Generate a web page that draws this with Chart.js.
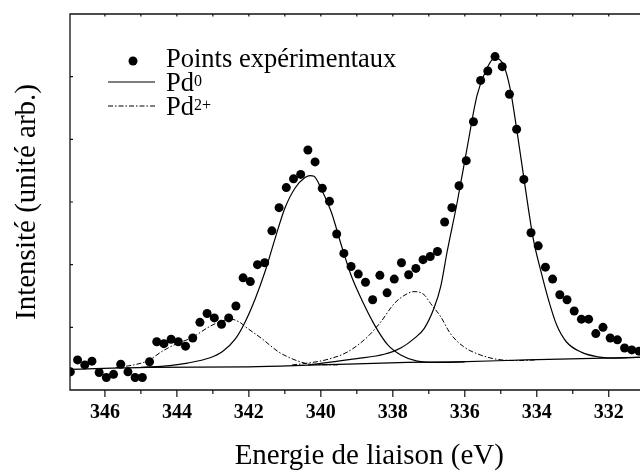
<!DOCTYPE html>
<html>
<head>
<meta charset="utf-8">
<script src="https://cdn.jsdelivr.net/npm/chart.js@4"></script>
<style>
  html, body { margin: 0; padding: 0; background: #fff; overflow: hidden; }
  #wrap { width: 640px; height: 474px; overflow: hidden; }
</style>
</head>
<body>
<div id="wrap"><canvas id="chart" width="673" height="474"></canvas></div>
<script>
// points expérimentaux (eV, intensité en unités arb.)
const energie = [
  346.96, 346.76, 346.56, 346.36, 346.16, 345.96, 345.76, 345.56, 345.36, 345.16,
  344.96, 344.76, 344.56, 344.36, 344.16, 343.96, 343.76, 343.56, 343.36, 343.16,
  342.96, 342.76, 342.56, 342.36, 342.16, 341.96, 341.76, 341.56, 341.36, 341.16,
  340.96, 340.76, 340.56, 340.36, 340.16, 339.96, 339.76, 339.56, 339.36, 339.16,
  338.96, 338.76, 338.56, 338.36, 338.16, 337.96, 337.76, 337.56, 337.36, 337.16,
  336.96, 336.76, 336.56, 336.36, 336.16, 335.96, 335.76, 335.56, 335.36, 335.16,
  334.96, 334.76, 334.56, 334.36, 334.16, 333.96, 333.76, 333.56, 333.36, 333.16,
  332.96, 332.76, 332.56, 332.36, 332.16, 331.96, 331.76, 331.56, 331.36, 331.16
];
const intensite = [
  0.29, 0.48, 0.40, 0.46, 0.28, 0.20, 0.25, 0.41, 0.29, 0.20,
  0.20, 0.45, 0.77, 0.74, 0.81, 0.77, 0.70, 0.83, 1.08, 1.22,
  1.15, 1.05, 1.15, 1.34, 1.79, 1.73, 2.00, 2.03, 2.54, 2.91,
  3.23, 3.37, 3.44, 3.83, 3.64, 3.22, 3.01, 2.49, 2.18, 1.97,
  1.85, 1.72, 1.44, 1.83, 1.55, 1.77, 2.03, 1.84, 1.94, 2.08,
  2.13, 2.21, 2.68, 2.91, 3.26, 3.66, 4.28, 4.94, 5.09, 5.32,
  5.16, 4.72, 4.16, 3.36, 2.51, 2.30, 1.96, 1.77, 1.52, 1.44,
  1.26, 1.13, 1.13, 0.90, 1.00, 0.83, 0.80, 0.67, 0.64, 0.62
];

// fond (ligne de base)
const fondE = [347.0, 344.8, 342.0, 340.1, 337.6, 336.2, 334.3, 331.2, 330.3];
const fondI = [0.33, 0.36, 0.37, 0.40, 0.44, 0.45, 0.48, 0.52, 0.53];

// Pd0 3d3/2
const pd0aE = [345.0, 344.2, 343.7, 343.1, 342.74, 342.37, 342.1, 341.82, 341.55, 341.27, 341.0,
  340.72, 340.44, 340.3, 340.19, 339.98, 339.71, 339.43, 339.16, 338.88, 338.51, 338.14,
  337.78, 337.32, 336.76, 336.0];
const pd0aI = [0.36, 0.39, 0.43, 0.51, 0.61, 0.82, 1.09, 1.46, 1.89, 2.42, 2.90,
  3.22, 3.39, 3.42, 3.41, 3.20, 2.84, 2.31, 1.83, 1.46, 1.04, 0.72,
  0.56, 0.46, 0.44, 0.45];

// Pd0 3d5/2
const pd0bE = [340.35, 339.0, 338.24, 337.78, 337.41, 337.13, 336.86, 336.67, 336.49, 336.21,
  335.94, 335.66, 335.39, 335.16, 334.92, 334.74, 334.56, 334.33, 334.1, 333.87, 333.66,
  333.45, 333.18, 332.75, 332.3, 331.8, 331.2, 330.3];
const pd0bI = [0.40, 0.50, 0.57, 0.67, 0.82, 0.98, 1.30, 1.65, 2.21, 3.00,
  3.85, 4.70, 5.13, 5.30, 5.18, 4.81, 4.17, 3.27, 2.42, 1.86, 1.41,
  1.04, 0.77, 0.60, 0.53, 0.51, 0.52, 0.53];

// Pd2+ 3d3/2
const pd2aE = [345.7, 345.2, 344.8, 344.4, 344.0, 343.6, 343.1, 342.8, 342.5, 342.25, 342.1,
  341.64, 341.18, 340.72, 340.26, 339.5];
const pd2aI = [0.36, 0.40, 0.47, 0.62, 0.74, 0.83, 1.01, 1.09, 1.13, 1.08, 1.01,
  0.82, 0.61, 0.48, 0.41, 0.40];

// Pd2+ 3d5/2
const pd2bE = [340.8, 340.35, 339.8, 339.25, 338.7, 338.33, 337.96, 337.59, 337.41, 337.13,
  336.95, 336.67, 336.4, 336.03, 335.57, 335.11, 334.56, 334.0];
const pd2bI = [0.40, 0.43, 0.49, 0.61, 0.85, 1.09, 1.38, 1.54, 1.57, 1.52,
  1.38, 1.17, 0.90, 0.69, 0.56, 0.49, 0.47, 0.48];

const xTickLabels = [346, 344, 342, 340, 338, 336, 334, 332];
const xMinorTicks = [345, 343, 341, 339, 337, 335, 333, 331];
const yTicks = [1, 2, 3, 4, 5];

const xMin = 330.34, xMax = 346.97;
const serif = '"Liberation Serif", "Times New Roman", serif';

function pts(ex, iy) {
  return ex.map((e, i) => ({ x: e, y: iy[i] }));
}

function courbe(ex, iy, tirets) {
  return {
    data: pts(ex, iy),
    showLine: true,
    borderColor: '#000',
    borderWidth: tirets ? 1 : 1.2,
    borderDash: tirets ? [5, 2, 1.5, 2] : [],
    pointRadius: 0,
    cubicInterpolationMode: 'monotone',
    fill: false
  };
}

// cadre + graduations
const cadre = {
  id: 'cadre',
  afterDatasetsDraw(chart) {
    const { ctx, chartArea: a, scales: { x, y } } = chart;
    ctx.save();
    ctx.strokeStyle = '#111';
    ctx.lineWidth = 1.3;
    ctx.beginPath();
    ctx.moveTo(a.right, a.top);
    ctx.lineTo(a.left, a.top);
    ctx.lineTo(a.left, a.bottom);
    ctx.lineTo(a.right, a.bottom);
    ctx.lineTo(a.right, a.top);
    ctx.stroke();

    ctx.lineWidth = 1.2;
    ctx.beginPath();
    for (const v of xTickLabels) {
      const px = x.getPixelForValue(v);
      ctx.moveTo(px, a.bottom); ctx.lineTo(px, a.bottom + 7);
      ctx.moveTo(px, a.top); ctx.lineTo(px, a.top + 2.5);
    }
    for (const v of xMinorTicks) {
      const px = x.getPixelForValue(v);
      ctx.moveTo(px, a.bottom); ctx.lineTo(px, a.bottom + 4);
      ctx.moveTo(px, a.top); ctx.lineTo(px, a.top + 2.5);
    }
    for (const v of yTicks) {
      const py = y.getPixelForValue(v);
      ctx.moveTo(a.left, py); ctx.lineTo(a.left + 3, py);
    }
    ctx.stroke();
    ctx.restore();
  },
  afterDraw(chart) {
    // légende
    const { ctx, chartArea: a } = chart;
    const lx = a.left + 38, tx = a.left + 96;
    ctx.save();
    ctx.fillStyle = '#000';
    ctx.strokeStyle = '#000';
    ctx.beginPath();
    ctx.arc(a.left + 63, a.top + 47, 4.5, 0, Math.PI * 2);
    ctx.fill();
    ctx.lineWidth = 1.2;
    ctx.beginPath();
    ctx.moveTo(lx, a.top + 68); ctx.lineTo(lx + 47, a.top + 68);
    ctx.stroke();
    ctx.lineWidth = 1;
    ctx.setLineDash([5, 2, 1.5, 2]);
    ctx.beginPath();
    ctx.moveTo(lx, a.top + 92); ctx.lineTo(lx + 47, a.top + 92);
    ctx.stroke();
    ctx.setLineDash([]);

    ctx.textBaseline = 'alphabetic';
    ctx.font = '26.5px ' + serif;
    ctx.fillText('Points expérimentaux', tx, a.top + 53);
    ctx.fillText('Pd', tx, a.top + 77);
    ctx.fillText('Pd', tx, a.top + 101);
    const w = ctx.measureText('Pd').width;
    ctx.font = '16px ' + serif;
    ctx.fillText('0', tx + w, a.top + 72);
    ctx.fillText('2+', tx + w, a.top + 96);
    ctx.restore();
  }
};

new Chart(document.getElementById('chart'), {
  type: 'scatter',
  data: {
    datasets: [
      {
        data: pts(energie, intensite),
        backgroundColor: '#000',
        borderColor: '#000',
        pointRadius: 4.5,
        pointBorderWidth: 0
      },
      courbe(fondE, fondI, false),
      courbe(pd0aE, pd0aI, false),
      courbe(pd0bE, pd0bI, false),
      courbe(pd2aE, pd2aI, true),
      courbe(pd2bE, pd2bI, true)
    ]
  },
  options: {
    responsive: false,
    animation: false,
    devicePixelRatio: 1,
    layout: { padding: { top: 14, left: 0, right: 0, bottom: 0 } },
    plugins: { legend: { display: false }, tooltip: { enabled: false } },
    scales: {
      x: {
        type: 'linear',
        reverse: true,
        min: xMin,
        max: xMax,
        grid: { display: false, drawTicks: false },
        border: { display: false },
        afterBuildTicks: s => { s.ticks = xTickLabels.map(v => ({ value: v })); },
        afterFit: s => { s.height = 84; },
        ticks: {
          autoSkip: false,
          maxRotation: 0,
          padding: 11,
          color: '#000',
          font: { family: serif, size: 20, weight: 'bold' }
        },
        title: {
          display: true,
          text: 'Energie de liaison (eV)',
          color: '#000',
          padding: 0,
          font: { family: serif, size: 29 }
        }
      },
      y: {
        min: 0,
        max: 6,
        grid: { display: false, drawTicks: false },
        border: { display: false },
        afterFit: s => { s.width = 70; },
        ticks: { display: false, stepSize: 1 },
        title: {
          display: true,
          text: 'Intensité (unité arb.)',
          color: '#000',
          padding: { top: 10, bottom: 0 },
          font: { family: serif, size: 29 }
        }
      }
    }
  },
  plugins: [cadre]
});
</script>
</body>
</html>
